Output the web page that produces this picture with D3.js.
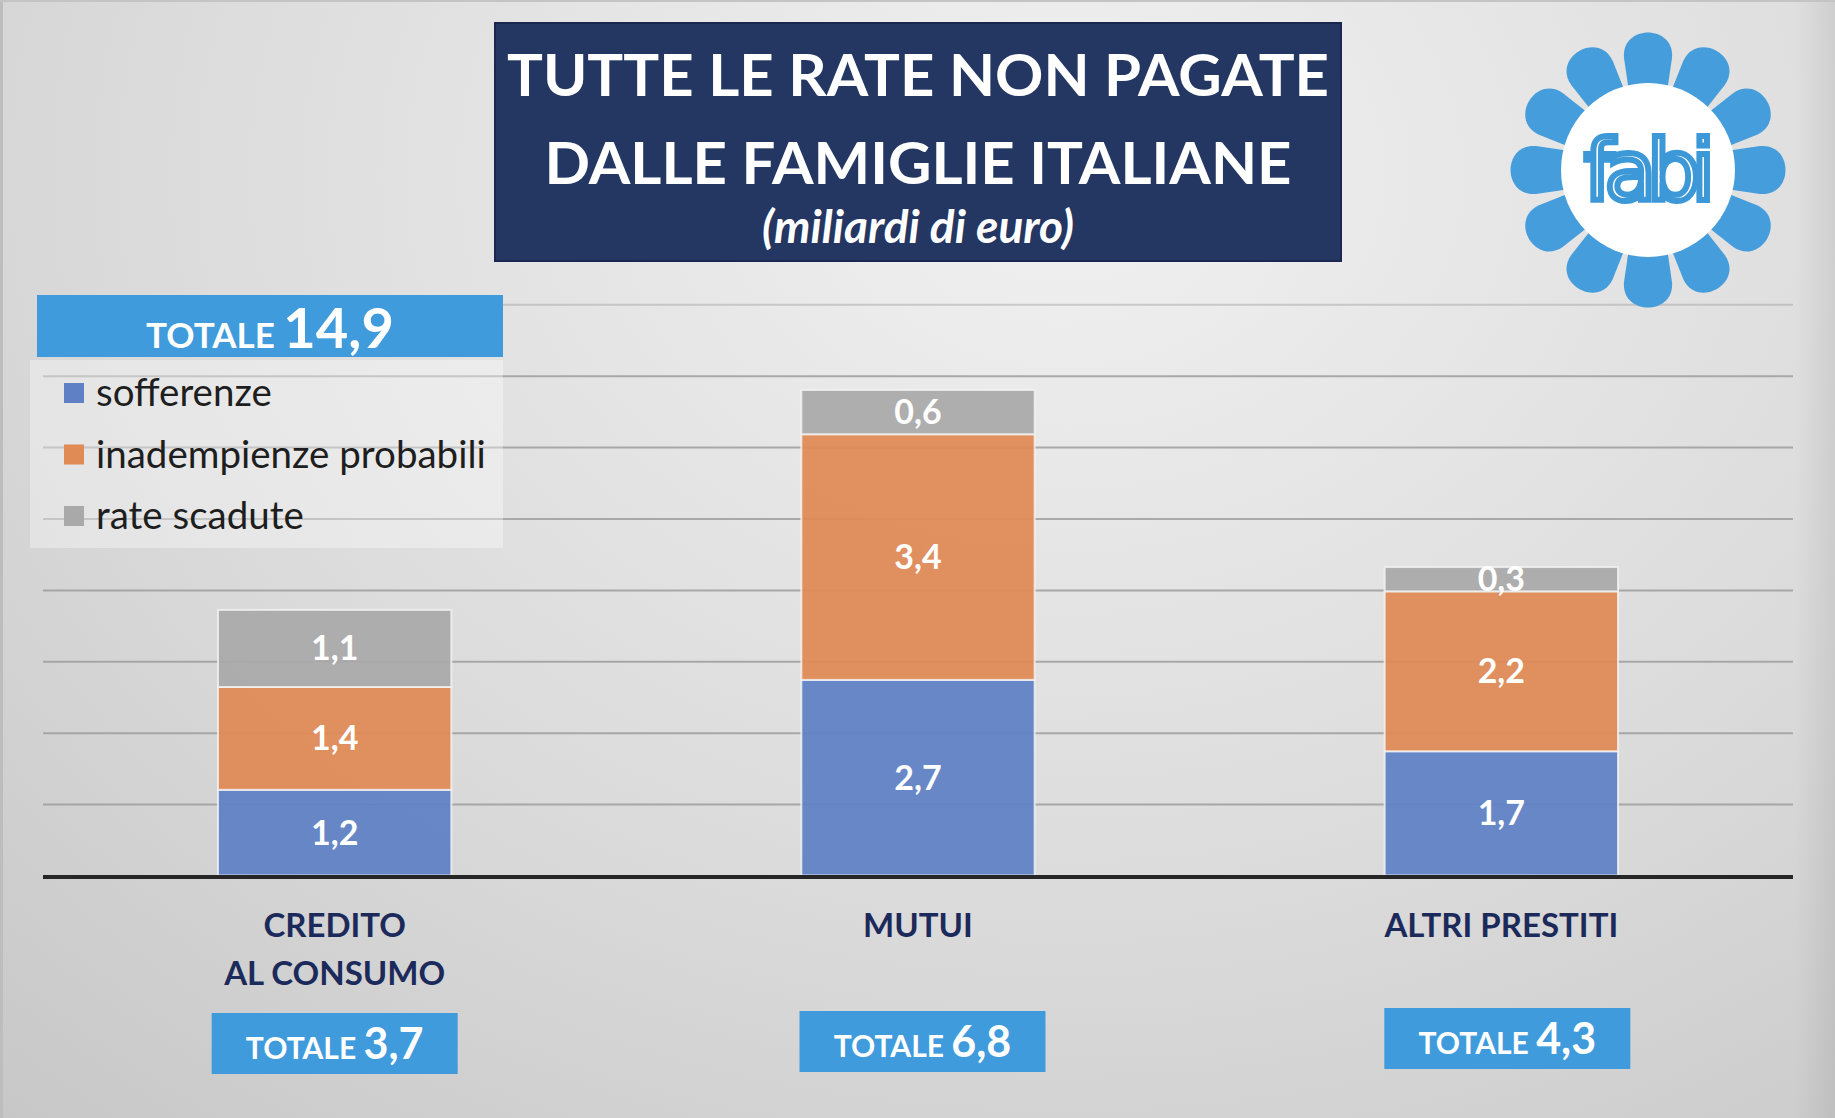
<!DOCTYPE html>
<html><head><meta charset="utf-8">
<script src="https://cdn.jsdelivr.net/npm/d3@7"></script>
<style>html,body{margin:0;padding:0;overflow:hidden;background:#dcdcdc}</style>
</head><body>
<svg id="chart" width="1835" height="1118"></svg>
<script>
// ---------- DATA (miliardi di euro) ----------
const categories = ["CREDITO AL CONSUMO", "MUTUI", "ALTRI PRESTITI"];
const categoryLines = [["CREDITO", "AL CONSUMO"], ["MUTUI"], ["ALTRI PRESTITI"]];
const seriesNames = ["sofferenze", "inadempienze probabili", "rate scadute"];
const sofferenze = [1.20, 2.74, 1.74];
const inadempienze = [1.44, 3.44, 2.24];
const rateScadute = [1.08, 0.62, 0.34];
const totals = [3.7, 6.8, 4.3];
const grandTotal = 14.9;
const gridTicks = [1, 2, 3, 4, 5, 6, 7, 8];
const titleLines = ["TUTTE LE RATE NON PAGATE", "DALLE FAMIGLIE ITALIANE"];
const subtitle = "(miliardi di euro)";

// ---------- SETUP ----------
const W = 1835, H = 1118;
const svg = d3.select("#chart");
const FONT = "Lato, 'Open Sans', sans-serif";
const colors = ["#5f80c5", "#e08a55", "#a9a9a9"];
const locale = d3.formatLocale({decimal: ",", thousands: ".", grouping: [3], currency: ["€", ""]});
const fmt = locale.format(".1f");

const defs = svg.append("defs");
const bg = defs.append("radialGradient").attr("id", "bg")
  .attr("cx", "0.58").attr("cy", "0.12").attr("r", "0.95")
  .attr("gradientTransform", "scale(1,1.3)");
bg.append("stop").attr("offset", "0").attr("stop-color", "#f1f1f1");
bg.append("stop").attr("offset", "0.55").attr("stop-color", "#dadada");
bg.append("stop").attr("offset", "1").attr("stop-color", "#c3c3c3");
const rightEdge = defs.append("linearGradient").attr("id", "redge").attr("x1", 0).attr("x2", 1);
rightEdge.append("stop").attr("offset", 0).attr("stop-color", "#000").attr("stop-opacity", 0);
rightEdge.append("stop").attr("offset", 1).attr("stop-color", "#000").attr("stop-opacity", 0.07);

svg.append("rect").attr("width", W).attr("height", H).attr("fill", "url(#bg)");
svg.append("rect").attr("x", 1795).attr("y", 0).attr("width", 40).attr("height", H).attr("fill", "url(#redge)");
svg.append("rect").attr("x", 0).attr("y", 0).attr("width", 3).attr("height", H).attr("fill", "#bdbdbd");
svg.append("rect").attr("x", 0).attr("y", 0).attr("width", W).attr("height", 2).attr("fill", "#c4c4c4");

// ---------- SCALES ----------
const plot = {left: 43, right: 1793, base: 875.5};
const x = d3.scaleBand().domain(categories).range([plot.left, plot.right])
  .paddingInner(0.6).paddingOuter(0.3);
const y = d3.scaleLinear().domain([0, 8]).range([plot.base, plot.base - 8 * 71.4]);

// gridlines via axis
const grid = svg.append("g").attr("transform", `translate(${plot.left},0)`)
  .call(d3.axisLeft(y).tickValues(gridTicks).tickSize(-(plot.right - plot.left)).tickFormat(""));
grid.select(".domain").remove();
grid.selectAll(".tick line").attr("stroke", "#9d9d9d").attr("stroke-width", 2)
  .attr("stroke-opacity", (d) => d === 8 ? 0.45 : 0.85);

// ---------- STACKED BARS ----------
const rows = categories.map((c, i) => ({cat: c, s0: sofferenze[i], s1: inadempienze[i], s2: rateScadute[i]}));
const stack = d3.stack().keys(["s0", "s1", "s2"]);
const layers = stack(rows);

const barG = svg.append("g");
layers.forEach((layer, li) => {
  barG.selectAll(null).data(layer).enter().append("rect")
    .attr("x", d => x(d.data.cat))
    .attr("y", d => y(d[1]))
    .attr("width", x.bandwidth())
    .attr("height", d => y(d[0]) - y(d[1]))
    .attr("fill", colors[li]).attr("fill-opacity", 0.93)
    .attr("stroke", "#f4f4f4").attr("stroke-opacity", 0.8).attr("stroke-width", 2);
});
layers.forEach((layer, li) => {
  barG.selectAll(null).data(layer).enter().append("text")
    .attr("x", d => x(d.data.cat) + x.bandwidth() / 2)
    .attr("y", d => (y(d[0]) + y(d[1])) / 2 + 12)
    .attr("text-anchor", "middle")
    .attr("font-family", FONT).attr("font-weight", 700).attr("font-size", 34)
    .attr("fill", "#fff")
    .text(d => fmt(d[1] - d[0]));
});

// baseline
svg.append("line").attr("x1", plot.left).attr("x2", plot.right)
  .attr("y1", y(0) + 1.5).attr("y2", y(0) + 1.5)
  .attr("stroke", "#262626").attr("stroke-width", 4);

// ---------- CATEGORY LABELS + TOTAL BOXES ----------
const boxShift = [0, 4.5, 6];
const boxTop = [1013, 1011, 1008];
categories.forEach((c, i) => {
  const cx = x(c) + x.bandwidth() / 2;
  categoryLines[i].forEach((ln, j) => {
    svg.append("text").attr("x", cx).attr("y", 937 + j * 48)
      .attr("text-anchor", "middle")
      .attr("font-family", FONT).attr("font-weight", 700).attr("font-size", 33)
      .attr("fill", "#1b2a5a").text(ln);
  });
  const bw = 246, bh = 61, bx = cx + boxShift[i], top = boxTop[i];
  svg.append("rect").attr("x", bx - bw / 2).attr("y", top).attr("width", bw).attr("height", bh)
    .attr("fill", "#3f9bdc");
  const t = svg.append("text").attr("x", bx).attr("y", top + 46)
    .attr("text-anchor", "middle").attr("font-family", FONT).attr("font-weight", 700)
    .attr("fill", "#fff");
  t.append("tspan").attr("font-size", 30).text("TOTALE ");
  t.append("tspan").attr("font-size", 43).text(fmt(totals[i]));
});

// ---------- GRAND TOTAL + LEGEND ----------
svg.append("rect").attr("x", 30).attr("y", 360).attr("width", 473).attr("height", 188)
  .attr("fill", "#ffffff").attr("fill-opacity", 0.35);
svg.append("rect").attr("x", 37).attr("y", 295).attr("width", 466).attr("height", 62)
  .attr("fill", "#3f9bdc");
const gt = svg.append("text").attr("x", 270).attr("y", 348)
  .attr("text-anchor", "middle").attr("font-family", FONT).attr("font-weight", 700).attr("fill", "#fff");
gt.append("tspan").attr("font-size", 35).text("TOTALE ");
gt.append("tspan").attr("font-size", 56).text(fmt(grandTotal));

const legend = svg.append("g");
seriesNames.forEach((s, i) => {
  const cy = 393 + i * 61.5;
  legend.append("rect").attr("x", 64).attr("y", cy - 10).attr("width", 20).attr("height", 20)
    .attr("fill", colors[i]);
  legend.append("text").attr("x", 96).attr("y", cy + 13)
    .attr("font-family", FONT).attr("font-size", 38.5).attr("fill", "#1e1e1e")
    .text(s);
});

// ---------- TITLE ----------
svg.append("rect").attr("x", 495).attr("y", 23).attr("width", 846).attr("height", 238)
  .attr("fill", "#243662").attr("stroke", "#1a2850").attr("stroke-width", 2);
const titleW = [822, 747];
titleLines.forEach((ln, i) => {
  svg.append("text").attr("x", 918).attr("y", 96 + i * 88)
    .attr("text-anchor", "middle").attr("font-family", FONT).attr("font-weight", 700)
    .attr("font-size", 58).attr("fill", "#fff")
    .attr("textLength", titleW[i]).attr("lengthAdjust", "spacingAndGlyphs")
    .text(ln);
});
svg.append("text").attr("x", 918).attr("y", 243)
  .attr("text-anchor", "middle").attr("font-family", FONT).attr("font-weight", 700)
  .attr("font-style", "italic").attr("font-size", 46).attr("fill", "#fff")
  .text(subtitle);

// ---------- LOGO ----------
const logo = svg.append("g").attr("transform", "translate(1648,170)");
const petal = "M-19,-78 L-24,-112 C-27,-146 27,-146 24,-112 L19,-78 Z";
d3.range(12).forEach(i => {
  logo.append("path").attr("d", petal)
    .attr("fill", "#459ddc")
    .attr("transform", `rotate(${i * 30})`);
});
logo.append("circle").attr("r", 87).attr("fill", "#fff");
logo.append("text").attr("x", -3).attr("y", 30).attr("text-anchor", "middle")
  .attr("font-family", "'DejaVu Sans', sans-serif").attr("font-size", 84)
  .attr("letter-spacing", -9)
  .attr("fill", "#fff").attr("stroke", "#3d98d8").attr("stroke-width", 6)
  .text("fabi");
</script>
</body></html>
